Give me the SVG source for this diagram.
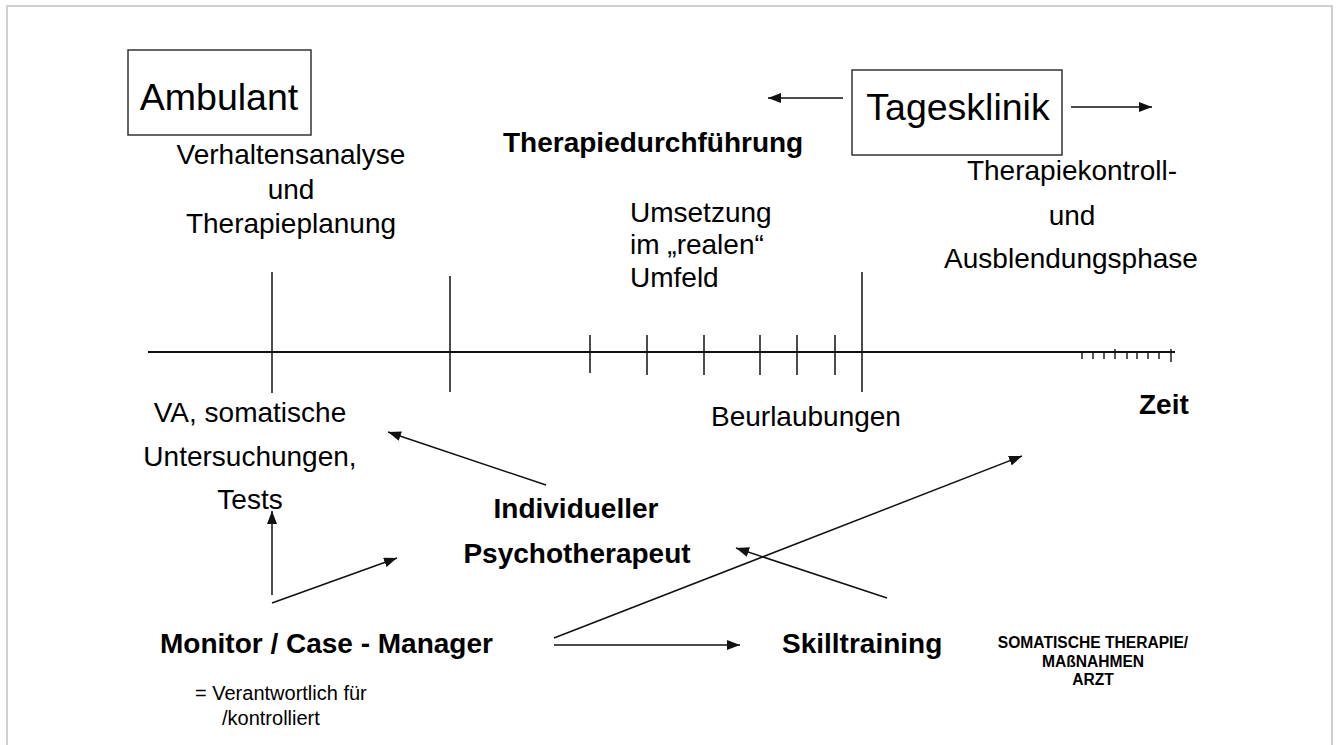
<svg xmlns="http://www.w3.org/2000/svg" width="1336" height="745" viewBox="0 0 1336 745">
<style>
text{font-family:"Liberation Sans",Arial,sans-serif;fill:#000}
.big{font-size:37.5px}
.r{font-size:28px}
.b{font-size:28px;font-weight:bold}
.s{font-size:20px}
.xs{font-size:15.6px;font-weight:bold}
.mid{text-anchor:middle}
.box{fill:#fff;stroke:#333;stroke-width:1.5}
.ln{stroke:#111;stroke-width:1.5;fill:none}
.ax{stroke:#111;stroke-width:2;fill:none}
.arr{stroke:#111;stroke-width:1.5;fill:none;marker-end:url(#ah)}
</style>
<defs>
<marker id="ah" markerUnits="userSpaceOnUse" markerWidth="13" markerHeight="10" refX="13" refY="5" orient="auto">
<path d="M0,0 L13,5 L0,10 z" fill="#111"/>
</marker>
</defs>
<rect x="0" y="0" width="1336" height="745" fill="#fff"/>
<path d="M7,760 V6 H1332 V760" fill="none" stroke="#d0d0d0" stroke-width="2"/>

<g id="timeline">
<line class="ax" x1="148" y1="352" x2="1175" y2="352"/>
<line class="ln" x1="272" y1="272" x2="272" y2="393"/>
<line class="ln" x1="450" y1="276" x2="450" y2="392"/>
<line class="ln" x1="862" y1="272" x2="862" y2="392"/>
<g class="ln">
<line x1="590" y1="335" x2="590" y2="373"/>
<line x1="647" y1="335" x2="647" y2="375"/>
<line x1="704" y1="335" x2="704" y2="375"/>
<line x1="760" y1="335" x2="760" y2="375"/>
<line x1="797" y1="335" x2="797" y2="375"/>
<line x1="835" y1="335" x2="835" y2="375"/>
</g>
<g stroke="#111" stroke-width="1.4">
<line x1="1082" y1="352" x2="1082" y2="359"/>
<line x1="1093" y1="352" x2="1093" y2="359"/>
<line x1="1104" y1="352" x2="1104" y2="359"/>
<line x1="1115" y1="349" x2="1115" y2="359"/>
<line x1="1127" y1="352" x2="1127" y2="359"/>
<line x1="1137" y1="352" x2="1137" y2="359"/>
<line x1="1148" y1="352" x2="1148" y2="359"/>
<line x1="1159" y1="352" x2="1159" y2="359"/>
<line x1="1171" y1="349" x2="1171" y2="362"/>
</g>
</g>

<g id="ambulant">
<rect class="box" x="128" y="50" width="183" height="85"/>
<text class="big mid" x="219" y="110">Ambulant</text>
</g>
<g id="tagesklinik">
<rect class="box" x="852" y="70" width="210" height="85"/>
<text class="big mid" x="958" y="120">Tagesklinik</text>
</g>

<g id="verhaltensanalyse">
<text class="r mid" x="291" y="164">Verhaltensanalyse</text>
<text class="r mid" x="291" y="199">und</text>
<text class="r mid" x="291" y="233">Therapieplanung</text>
</g>
<g id="therapiedurchfuehrung">
<text class="b" x="503" y="152">Therapiedurchführung</text>
</g>
<g id="umsetzung">
<text class="r" x="630" y="222">Umsetzung</text>
<text class="r" x="630" y="254">im „realen“</text>
<text class="r" x="630" y="287">Umfeld</text>
</g>
<g id="therapiekontrolle">
<text class="r mid" x="1072" y="180">Therapiekontroll-</text>
<text class="r mid" x="1072" y="225">und</text>
<text class="r mid" x="1071" y="268">Ausblendungsphase</text>
</g>
<g id="va">
<text class="r mid" x="250" y="422">VA, somatische</text>
<text class="r mid" x="250" y="466">Untersuchungen,</text>
<text class="r mid" x="250" y="509">Tests</text>
</g>
<g id="beurlaubungen">
<text class="r" x="711" y="426">Beurlaubungen</text>
</g>
<g id="zeit">
<text class="b" x="1139" y="414">Zeit</text>
</g>
<g id="psychotherapeut">
<text class="b mid" x="576" y="518">Individueller</text>
<text class="b mid" x="577" y="563">Psychotherapeut</text>
</g>
<g id="monitor">
<text class="b" x="160" y="653">Monitor / Case - Manager</text>
</g>
<g id="legend">
<text class="s" x="195" y="700">= Verantwortlich für</text>
<text class="s" x="222" y="725">/kontrolliert</text>
</g>
<g id="skilltraining">
<text class="b" x="782" y="653">Skilltraining</text>
</g>
<g id="somatische">
<text class="xs mid" x="1093" y="648">SOMATISCHE THERAPIE/</text>
<text class="xs mid" x="1093" y="667">MAßNAHMEN</text>
<text class="xs mid" x="1093" y="685">ARZT</text>
</g>

<g id="connectors">
<line class="arr" x1="843" y1="98" x2="768" y2="98"/>
<line class="arr" x1="1071" y1="107" x2="1152" y2="107"/>
<line class="arr" x1="546" y1="485" x2="388" y2="432"/>
<line class="arr" x1="272" y1="595" x2="272" y2="511"/>
<line class="arr" x1="272" y1="603" x2="397" y2="558"/>
<line class="arr" x1="554" y1="638" x2="1022" y2="456"/>
<line class="arr" x1="554" y1="645" x2="740" y2="645"/>
<line class="arr" x1="887" y1="598" x2="736" y2="548"/>
</g>
</svg>
